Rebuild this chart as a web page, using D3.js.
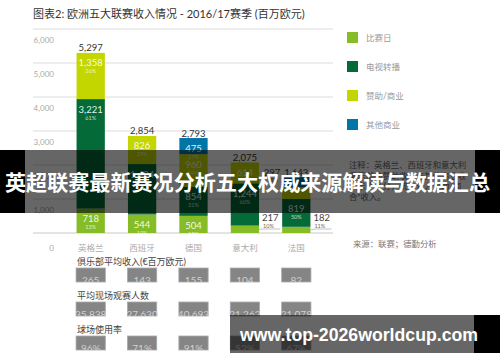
<!DOCTYPE html>
<html>
<head>
<meta charset="utf-8">
<script src="https://cdn.jsdelivr.net/npm/d3@7/dist/d3.min.js"></script>
<style>
  body { margin: 0; background: #fff; }
  text { font-family: Lato, "Noto Sans CJK SC", sans-serif; }
</style>
</head>
<body>
<script>
var width = 500;
var height = 362;

// chart values
var countries = ["英格兰", "西班牙", "德国", "意大利", "法国"];
var matchday = [718, 544, 504, 217, 182];
var broadcast = [3221, 1484, 854, 1244, 819];
var sponsorship = [1358, 826, 960, 614, 345];
var otherCommercial = [0, 0, 475, 0, 297];
var totals = [5297, 2854, 2793, 2075, 1643];
var matchdayPct = ["13%", "19%", "18%", "10%", "11%"];
var broadcastPct = ["61%", "52%", "31%", "60%", "50%"];
var sponsorshipPct = ["26%", "29%", "34%", "30%", "21%"];
var otherPct = ["", "", "17%", "", "18%"];
var yTicks = [0, 1000, 2000, 3000, 4000, 5000, 6000];

var legendNames = ["比赛日", "电视转播", "赞助/商业", "其他商业"];
var keys = ["matchday", "broadcast", "sponsorship", "other"];
var colors = ["#86bc25", "#046a38", "#c4d600", "#0076a8"];

var avgRevenue = [265, 143, 155, 104, 82];
var attendance = [35838, 27630, 40693, 21262, 21078];
var utilisation = [96, 71, 91, 52, 67];

var title = "图表2: 欧洲五大联赛收入情况 - 2016/17赛季 (百万欧元)";
var noteLines = ["注释：英格兰、西班牙和意大利", "俱乐部的赞助收入与其他商业收", "入未作区分，统一计入赞助/商", "合\u201d收入。"];
var sourceText = "来源：联赛；德勤分析";

var svg = d3.select("body").append("svg")
    .attr("width", width)
    .attr("height", height);

var x = d3.scaleBand()
    .domain(countries)
    .range([65, 322])
    .paddingInner(0.45)
    .paddingOuter(0.225);

var y = d3.scaleLinear()
    .domain([0, 6000])
    .range([233, 29]);

var color = d3.scaleOrdinal().domain(keys).range(colors);
var fmt = d3.format(",");

// title
svg.append("text")
    .attr("x", 33).attr("y", 18)
    .attr("font-size", 11).attr("fill", "#333")
    .text(title);

// grid
svg.selectAll(".grid")
  .data(yTicks)
  .enter().append("line")
    .attr("class", "grid")
    .attr("x1", 33).attr("x2", 333)
    .attr("y1", function(d) { return y(d); })
    .attr("y2", function(d) { return y(d); })
    .attr("stroke", function(d) { return d == 0 ? "#c8c8c8" : "#dcdcdc"; })
    .attr("stroke-width", 1);

svg.selectAll(".ylab")
  .data(yTicks)
  .enter().append("text")
    .attr("class", "ylab")
    .attr("x", 54)
    .attr("y", function(d) { return y(d) + (d == 0 ? 18 : 14); })
    .attr("text-anchor", "end")
    .attr("font-size", 8).attr("fill", "#aaa")
    .text(function(d) { return d3.format(",")(d).replace(",", ","); });

// stacked bars
var rows = countries.map(function(c, i) {
    return {country: c, matchday: matchday[i], broadcast: broadcast[i],
            sponsorship: sponsorship[i], other: otherCommercial[i], i: i};
});
var pcts = {matchday: matchdayPct, broadcast: broadcastPct, sponsorship: sponsorshipPct, other: otherPct};

var series = d3.stack().keys(keys)(rows);

var layer = svg.selectAll(".layer")
  .data(series)
  .enter().append("g")
    .attr("class", "layer")
    .attr("fill", function(d) { return color(d.key); });

layer.selectAll("rect")
  .data(function(d) { return d.filter(function(s) { return s[1] - s[0] > 0; }); })
  .enter().append("rect")
    .attr("x", function(d) { return x(d.data.country); })
    .attr("width", x.bandwidth())
    .attr("y", function(d) { return y(d[1]); })
    .attr("height", function(d) { return y(d[0]) - y(d[1]); });

// segment labels
series.forEach(function(s) {
    s.forEach(function(d) {
        var v = d[1] - d[0];
        if (v <= 0) return;
        var top = y(d[1]), bottom = y(d[0]), h = bottom - top;
        var cx = x(d.data.country) + x.bandwidth() / 2;
        var pct = pcts[s.key][d.data.i];
        if (h >= 15) {
            svg.append("text")
                .attr("x", cx).attr("y", top + 13.5)
                .attr("text-anchor", "middle").attr("font-size", 9.5)
                .attr("fill", "#fff").attr("fill-opacity", 0.92)
                .text(fmt(v));
            svg.append("text")
                .attr("x", cx).attr("y", top + 20.5)
                .attr("text-anchor", "middle").attr("font-size", 5.5)
                .attr("fill", "#fff").attr("fill-opacity", 0.75)
                .text(pct);
        } else if (s.key == "matchday") {
            var lx = x(d.data.country) + x.bandwidth() + 3;
            svg.append("path")
                .attr("d", "M" + (lx - 3) + "," + (top + h / 2) + "L" + (lx + 2) + "," + 229 + "L" + (lx + 18) + "," + 229)
                .attr("fill", "none").attr("stroke", "#999").attr("stroke-width", 0.6);
            svg.append("text")
                .attr("x", lx).attr("y", 221)
                .attr("font-size", 9.5).attr("fill", "#444")
                .text(fmt(v));
            svg.append("text")
                .attr("x", lx + 1).attr("y", 227.5)
                .attr("font-size", 5.5).attr("fill", "#666")
                .text(pct);
        } else if (s.key == "other") {
            var rx = x(d.data.country) - 2;
            svg.append("text")
                .attr("x", rx).attr("y", y(d.data.i === undefined ? 0 : totals[d.data.i]) - 1.5)
                .attr("text-anchor", "end")
                .attr("font-size", 9.5).attr("fill", "#444")
                .text(fmt(v));
            svg.append("text")
                .attr("x", rx - 2).attr("y", y(totals[d.data.i]) + 5)
                .attr("text-anchor", "end")
                .attr("font-size", 5.5).attr("fill", "#666")
                .text(pct);
        }
    });
});

// totals
svg.selectAll(".total")
  .data(countries)
  .enter().append("text")
    .attr("class", "total")
    .attr("x", function(d) { return x(d) + x.bandwidth() / 2; })
    .attr("y", function(d, i) { return y(totals[i]) - 1.5; })
    .attr("text-anchor", "middle")
    .attr("font-size", 9.5).attr("fill", "#333")
    .text(function(d, i) { return fmt(totals[i]); });

// categories
svg.selectAll(".cat")
  .data(countries)
  .enter().append("text")
    .attr("class", "cat")
    .attr("x", function(d) { return x(d) + x.bandwidth() / 2; })
    .attr("y", 251)
    .attr("text-anchor", "middle")
    .attr("font-size", 8.5).attr("fill", "#aaa")
    .text(function(d) { return d; });

// legend
var legend = svg.selectAll(".legend")
  .data(legendNames)
  .enter().append("g")
    .attr("class", "legend")
    .attr("transform", function(d, i) { return "translate(347," + (32 + i * 29) + ")"; });

legend.append("rect")
    .attr("width", 11).attr("height", 11)
    .attr("fill", function(d, i) { return colors[i]; });

legend.append("text")
    .attr("x", 19).attr("y", 8.5)
    .attr("font-size", 8.5).attr("fill", "#999")
    .text(function(d) { return d; });

// note and source
svg.selectAll(".note")
  .data(noteLines)
  .enter().append("text")
    .attr("class", "note")
    .attr("x", 349)
    .attr("y", function(d, i) { return 168 + i * 10.5; })
    .attr("font-size", 8.4).attr("fill", "#666")
    .text(function(d) { return d; });

svg.append("text")
    .attr("x", 353).attr("y", 247)
    .attr("font-size", 8.4).attr("fill", "#777")
    .text(sourceText);

// bottom tables
var tables = [
    {label: "俱乐部平均收入(€百万欧元)", values: avgRevenue.map(function(v) { return String(v); }), top: 268},
    {label: "平均现场观赛人数", values: attendance.map(fmt), top: 302},
    {label: "球场使用率", values: utilisation.map(function(v) { return v + "%"; }), top: 336}
];

var defs = svg.append("defs");

tables.forEach(function(t, ti) {
    svg.append("text")
        .attr("x", 77).attr("y", t.top - 3)
        .attr("font-size", 9).attr("fill", "#444")
        .text(t.label);

    defs.append("clipPath").attr("id", "clip" + ti)
      .append("rect")
        .attr("x", 0).attr("y", t.top).attr("width", width).attr("height", 14);

    svg.selectAll(".box" + ti)
      .data(countries)
      .enter().append("rect")
        .attr("class", "box" + ti)
        .attr("x", function(d) { return x(d) - 0.5; })
        .attr("y", t.top)
        .attr("width", x.bandwidth() + 1)
        .attr("height", 14)
        .attr("fill", "#858585")
        .attr("stroke", "#aaa").attr("stroke-width", 0.8);

    svg.append("g")
        .attr("clip-path", "url(#clip" + ti + ")")
      .selectAll("text")
      .data(countries)
      .enter().append("text")
        .attr("x", function(d) { return x(d) + x.bandwidth() / 2; })
        .attr("y", t.top + 16)
        .attr("text-anchor", "middle")
        .attr("font-size", 10).attr("fill", "#d0d0d0")
        .text(function(d, i) { return t.values[i]; });
});

// overlay banners
svg.append("rect").attr("x", 0).attr("y", 150).attr("width", 25).attr("height", 63).attr("fill", "#000");
svg.append("rect").attr("x", 25).attr("y", 150).attr("width", 450).attr("height", 63).attr("fill", "#000").attr("fill-opacity", 0.6);
svg.append("rect").attr("x", 475).attr("y", 150).attr("width", 25).attr("height", 63).attr("fill", "#000");
svg.append("text")
    .attr("x", 5).attr("y", 190)
    .attr("textLength", 485).attr("lengthAdjust", "spacingAndGlyphs")
    .attr("font-size", 21).attr("font-weight", "bold").attr("fill", "#fff")
    .style("font-family", "'Noto Sans CJK SC', sans-serif")
    .text("英超联赛最新赛况分析五大权威来源解读与数据汇总");

svg.append("rect").attr("x", 230).attr("y", 315).attr("width", 244).attr("height", 38).attr("fill", "#000").attr("fill-opacity", 0.6);
svg.append("rect").attr("x", 474).attr("y", 315).attr("width", 26).attr("height", 38).attr("fill", "#000");
svg.append("text")
    .attr("x", 240).attr("y", 341)
    .attr("textLength", 238).attr("lengthAdjust", "spacingAndGlyphs")
    .attr("font-size", 18).attr("font-weight", "bold").attr("fill", "#fff")
    .style("font-family", "'Liberation Sans', sans-serif")
    .text("www.top-2026worldcup.com");
</script>
</body>
</html>
